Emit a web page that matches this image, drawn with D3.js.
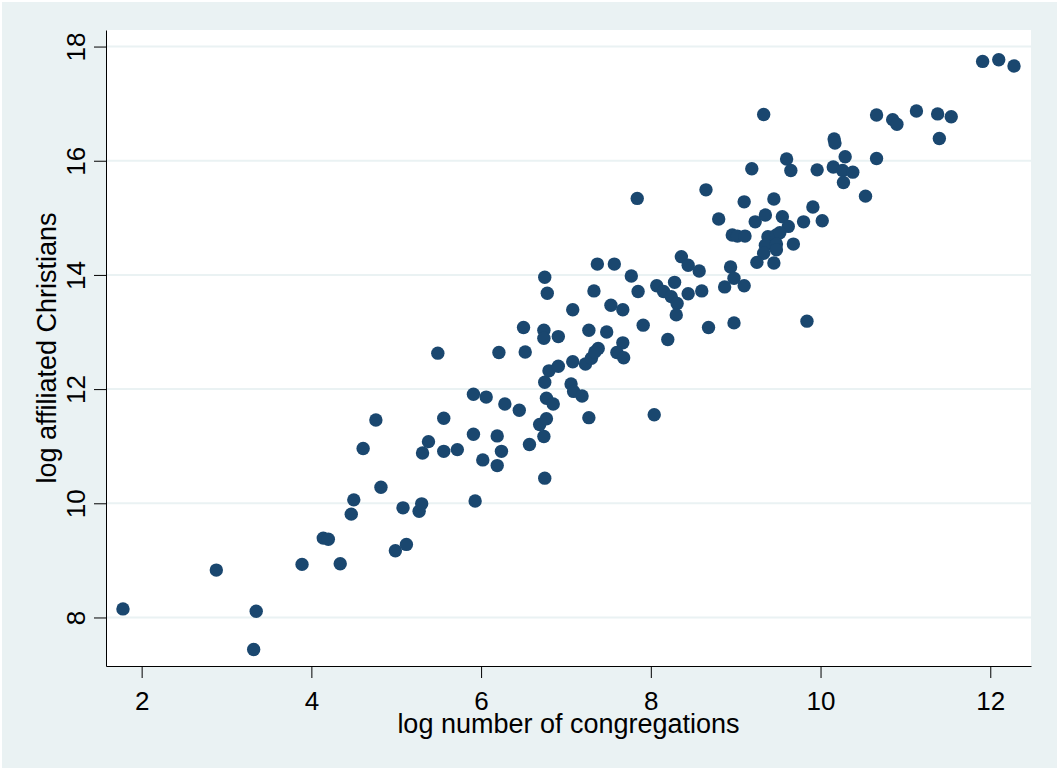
<!DOCTYPE html>
<html>
<head>
<meta charset="utf-8">
<script src="https://cdn.jsdelivr.net/npm/d3@7"></script>
<style>
  body { margin: 0; background: #fff; }
  text { font-family: "Liberation Sans", Arial, sans-serif; fill: #000; }
</style>
</head>
<body>
<div id="chart"></div>
<script>
// log number of congregations
const congregations = [
  1.78, 2.88, 3.35, 3.32, 3.89, 4.34, 4.14, 4.20, 4.47, 4.50,
  4.82, 4.61, 4.76, 4.99, 5.12, 5.08, 5.27, 5.30, 5.31, 5.38,
  5.56, 5.72, 5.56, 5.93, 5.91, 6.02, 6.19, 6.24, 6.19, 5.91,
  6.06, 6.28, 6.45, 6.57, 6.74, 6.75, 6.69, 6.77, 6.77, 6.85,
  5.49, 7.27, 6.75, 6.80, 6.91, 7.06, 7.09, 7.19, 7.08, 7.23,
  7.30, 7.38, 7.34, 6.21, 6.52, 6.50, 6.74, 6.74, 6.91, 6.75,
  6.78, 7.08, 7.27, 7.48, 7.33, 7.37, 7.57, 7.53, 7.67, 7.77,
  7.85, 7.91, 7.67, 7.60, 7.68, 8.04, 8.20, 7.84, 8.65, 9.19,
  9.60, 9.65, 9.96, 10.15, 10.29, 10.26, 10.38, 10.27, 9.10, 9.45,
  9.91, 8.80, 9.23, 9.35, 9.55, 9.62, 9.80, 10.02, 8.96, 9.02,
  9.11, 9.38, 9.48, 9.52, 9.35, 9.48, 9.33, 9.48, 9.25, 9.45,
  9.68, 8.94, 8.98, 8.87, 9.10, 8.36, 8.44, 8.57, 8.07, 8.15,
  8.24, 8.31, 8.28, 8.30, 8.44, 8.60, 8.68, 8.98, 9.84, 9.33,
  10.16, 10.17, 10.66, 10.85, 10.90, 10.66, 10.53, 11.91, 12.10, 12.28,
  11.13, 11.38, 11.54, 11.40
];
// log affiliated Christians
const christians = [
  8.15, 8.83, 8.11, 7.44, 8.93, 8.94, 9.39, 9.37, 9.81, 10.06,
  10.28, 10.96, 11.46, 9.17, 9.28, 9.92, 9.86, 9.99, 10.88, 11.08,
  10.91, 10.94, 11.49, 10.04, 11.21, 10.76, 11.18, 10.91, 10.66, 11.91,
  11.86, 11.74, 11.63, 11.03, 11.17, 10.44, 11.38, 11.48, 11.84, 11.74,
  12.63, 11.50, 12.12, 12.32, 12.40, 12.09, 11.96, 11.88, 12.48, 12.44,
  12.54, 12.71, 12.65, 12.64, 12.65, 13.08, 13.03, 12.89, 12.92, 13.96,
  13.68, 13.39, 13.03, 13.00, 13.72, 14.19, 14.19, 13.47, 13.39, 13.98,
  13.71, 13.12, 12.81, 12.64, 12.55, 11.55, 12.87, 15.34, 15.49, 15.86,
  16.03, 15.83, 15.84, 15.89, 16.07, 15.83, 15.80, 15.62, 15.28, 15.33,
  15.19, 14.98, 14.93, 15.05, 15.02, 14.85, 14.93, 14.95, 14.70, 14.68,
  14.68, 14.67, 14.70, 14.74, 14.52, 14.54, 14.38, 14.44, 14.22, 14.21,
  14.54, 14.14, 13.94, 13.79, 13.81, 14.32, 14.17, 14.07, 13.81, 13.71,
  13.62, 13.50, 13.87, 13.30, 13.67, 13.72, 13.08, 13.16, 13.19, 16.81,
  16.38, 16.31, 16.80, 16.72, 16.64, 16.04, 15.38, 17.74, 17.77, 17.66,
  16.87, 16.82, 16.77, 16.39
];
const xTicks = [2, 4, 6, 8, 10, 12];
const yTicks = [8, 10, 12, 14, 16, 18];

const W = 1057, H = 770;
const margin = {top: 30, right: 26, bottom: 104, left: 106};

const svg = d3.select("#chart").append("svg")
  .attr("width", W)
  .attr("height", H);

// outer background
svg.append("rect")
  .attr("x", 2).attr("y", 2)
  .attr("width", W - 2).attr("height", H - 4)
  .attr("fill", "#eaf2f3");

const x = d3.scaleLinear()
  .domain([1.58, 12.48])
  .range([margin.left, W - margin.right]);
const y = d3.scaleLinear()
  .domain([7.15, 18.29])
  .range([H - margin.bottom, margin.top]);

// plot region
svg.append("rect")
  .attr("x", margin.left).attr("y", margin.top)
  .attr("width", W - margin.right - margin.left)
  .attr("height", H - margin.bottom - margin.top)
  .attr("fill", "#fff");

// gridlines
svg.append("g")
  .selectAll("line")
  .data(yTicks)
  .join("line")
    .attr("x1", margin.left).attr("x2", W - margin.right)
    .attr("y1", d => y(d)).attr("y2", d => y(d))
    .attr("stroke", "#eaf2f3")
    .attr("stroke-width", 2);

// points
svg.append("g")
  .selectAll("circle")
  .data(congregations.map((c, i) => ({x: c, y: christians[i]})))
  .join("circle")
    .attr("cx", d => x(d.x))
    .attr("cy", d => y(d.y))
    .attr("r", 6.7)
    .attr("fill", "#1a476f");

// X axis
const xAxis = svg.append("g")
  .attr("transform", `translate(0,${H - margin.bottom})`)
  .call(d3.axisBottom(x).tickValues(xTicks).tickSize(12).tickPadding(14).tickSizeOuter(0));
xAxis.select(".domain").attr("stroke", "#000");
xAxis.selectAll(".tick line").attr("stroke", "#000");
xAxis.selectAll(".tick text")
  .attr("font-size", 26)
  .attr("font-family", "Liberation Sans, Arial, sans-serif");

// Y axis
const yAxis = svg.append("g")
  .attr("transform", `translate(${margin.left},0)`)
  .call(d3.axisLeft(y).tickValues(yTicks).tickSize(12).tickSizeOuter(0));
yAxis.select(".domain").attr("stroke", "#000");
yAxis.selectAll(".tick line").attr("stroke", "#000");
yAxis.selectAll(".tick text")
  .attr("font-size", 26)
  .attr("font-family", "Liberation Sans, Arial, sans-serif")
  .attr("text-anchor", "middle")
  .attr("x", 0).attr("dy", 0)
  .attr("transform", "translate(-21,0) rotate(-90)");

// axis titles
svg.append("text")
  .attr("x", (margin.left + W - margin.right) / 2)
  .attr("y", 733)
  .attr("text-anchor", "middle")
  .attr("font-size", 27)
  .text("log number of congregations");

svg.append("text")
  .attr("transform", `translate(56,${(margin.top + H - margin.bottom) / 2}) rotate(-90)`)
  .attr("text-anchor", "middle")
  .attr("font-size", 27)
  .text("log affiliated Christians");
</script>
</body>
</html>
